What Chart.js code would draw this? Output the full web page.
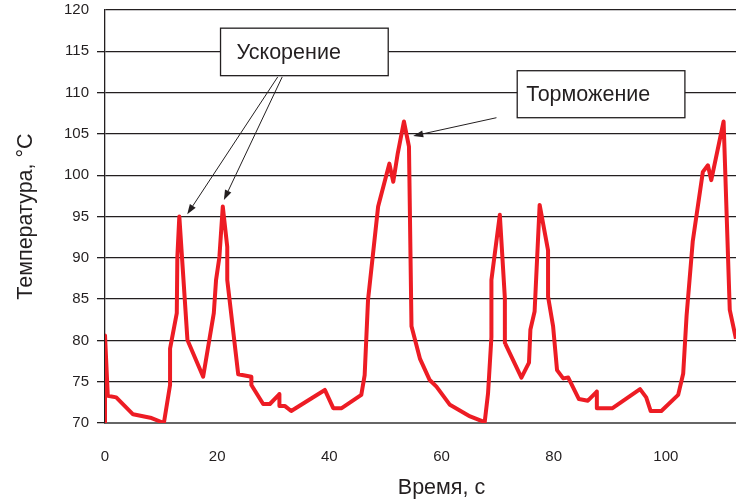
<!DOCTYPE html>
<html>
<head>
<meta charset="utf-8">
<script src="https://cdn.jsdelivr.net/npm/chart.js@4"></script>
<style>
  html, body { margin: 0; padding: 0; background: #fff; overflow: hidden; width: 736px; height: 499px; }
  #wrap { width: 780px; height: 499px; }
  canvas { display: block; }
</style>
</head>
<body>
<div id="wrap"><canvas id="c" width="780" height="499"></canvas></div>
<script>
// ---- data ----
const timeSec = [0, 0, 0.5, 2.0, 5.0, 8.3, 10.5, 11.6, 11.6, 12.8, 12.9, 13.25, 14.7, 17.5, 19.4, 19.8, 20.4, 21.0, 21.8, 21.8, 23.75, 26.1, 26.1, 28.2, 29.4, 31.1, 31.1, 32.1, 33.2, 39.2, 40.7, 42.2, 45.7, 46.3, 46.9, 48.7, 50.7, 51.4, 52.2, 53.3, 54.2, 54.65, 56.15, 57.9, 59.1, 61.5, 65.1, 67.7, 68.3, 68.9, 68.9, 70.4, 71.3, 71.3, 74.25, 75.6, 75.85, 76.6, 77.5, 79.0, 79.0, 79.9, 80.6, 81.7, 82.6, 84.5, 86.1, 87.7, 87.7, 90.5, 95.4, 96.5, 97.3, 99.2, 102.2, 103.1, 103.7, 104.8, 106.6, 107.5, 108.1, 110.3, 111.4, 112.5];
const temperatureC = [70, 80.6, 73.3, 73.1, 71.05, 70.6, 70.0, 74.6, 79.0, 83.3, 90.1, 95.0, 80.05, 75.6, 83.3, 87.3, 90.1, 96.2, 91.3, 87.3, 75.9, 75.6, 74.6, 72.3, 72.3, 73.5, 72.05, 72.05, 71.45, 74.0, 71.8, 71.8, 73.4, 75.8, 84.9, 96.2, 101.4, 99.2, 102.65, 106.5, 103.45, 81.7, 77.8, 75.2, 74.4, 72.2, 70.8, 70.1, 73.6, 80.4, 87.3, 95.2, 85.1, 79.7, 75.5, 77.3, 81.3, 83.5, 96.4, 90.9, 85.3, 81.7, 76.4, 75.4, 75.5, 72.9, 72.7, 73.8, 71.8, 71.8, 74.1, 73.1, 71.45, 71.45, 73.4, 76.0, 83.0, 92.0, 100.4, 101.2, 99.4, 106.5, 83.7, 80.2];
const xTickValues = [0, 20, 40, 60, 80, 100, 120];
const yTickValues = [70, 75, 80, 85, 90, 95, 100, 105, 110, 115, 120];
const xAxisTitle = 'Время, с';
const yAxisTitle = 'Температура, °C';
const calloutTexts = ['Ускорение', 'Торможение'];

// ---- callout layout (in data coordinates) ----
const calloutBoxes = [
  { text: calloutTexts[0], x0: 20.6, x1: 50.5, y0: 112.05, y1: 117.8, padX: 16 },
  { text: calloutTexts[1], x0: 73.5, x1: 103.4, y0: 106.96, y1: 112.65, padX: 9 }
];
const calloutArrows = [
  { from: [30.8, 111.9], to: [14.67, 95.27] },
  { from: [31.6, 111.9], to: [21.2, 97.0] },
  { from: [69.8, 106.96], to: [54.95, 104.75] }
];

const points = timeSec.map((t, i) => ({ x: t, y: temperatureC[i] }));
const FONT = "'Liberation Sans', Arial, sans-serif";
const TEXT = '#231f20';

const calloutPlugin = {
  id: 'callouts',
  afterDatasetsDraw(chart) {
    const { ctx, scales: { x, y } } = chart;
    ctx.save();
    ctx.strokeStyle = '#231f20';
    ctx.fillStyle = '#231f20';
    ctx.lineWidth = 1;
    for (const a of calloutArrows) {
      const x1 = x.getPixelForValue(a.from[0]), y1 = y.getPixelForValue(a.from[1]);
      const x2 = x.getPixelForValue(a.to[0]), y2 = y.getPixelForValue(a.to[1]);
      const ang = Math.atan2(y2 - y1, x2 - x1);
      const L = 10, W = 3.5;
      const bx = x2 - L * Math.cos(ang), by = y2 - L * Math.sin(ang);
      ctx.beginPath();
      ctx.moveTo(x1, y1);
      ctx.lineTo(bx, by);
      ctx.stroke();
      ctx.beginPath();
      ctx.moveTo(x2, y2);
      ctx.lineTo(bx + W * Math.sin(ang), by - W * Math.cos(ang));
      ctx.lineTo(bx - W * Math.sin(ang), by + W * Math.cos(ang));
      ctx.closePath();
      ctx.fill();
    }
    for (const b of calloutBoxes) {
      const left = x.getPixelForValue(b.x0), right = x.getPixelForValue(b.x1);
      const top = y.getPixelForValue(b.y1), bottom = y.getPixelForValue(b.y0);
      ctx.fillStyle = '#ffffff';
      ctx.fillRect(left, top, right - left, bottom - top);
      ctx.strokeStyle = '#231f20';
      ctx.lineWidth = 1.3;
      ctx.strokeRect(left, top, right - left, bottom - top);
      ctx.fillStyle = TEXT;
      ctx.font = '21.5px ' + FONT;
      ctx.textAlign = 'left';
      ctx.textBaseline = 'middle';
      ctx.fillText(b.text, left + b.padX, (top + bottom) / 2 + 1);
    }
    ctx.restore();
  }
};

new Chart(document.getElementById('c'), {
  type: 'line',
  data: {
    datasets: [{
      data: points,
      borderColor: '#ed1c24',
      borderWidth: 4,
      borderJoinStyle: 'round',
      pointRadius: 0,
      tension: 0,
      fill: false
    }]
  },
  options: {
    responsive: false,
    animation: false,
    devicePixelRatio: 1,
    layout: { padding: { top: 10, right: 2, left: 0, bottom: 0 } },
    plugins: { legend: { display: false }, tooltip: { enabled: false } },
    scales: {
      x: {
        type: 'linear',
        min: 0, max: 120,
        afterBuildTicks: (s) => { s.ticks = xTickValues.map(v => ({ value: v })); },
        afterFit: (s) => { s.height = 76; s.paddingLeft = 0; s.paddingRight = 0; },
        grid: { display: false, drawTicks: false },
        border: { display: true, color: '#666', width: 2 },
        ticks: { padding: 25, color: TEXT, font: { family: FONT, size: 15 } },
        title: { display: true, text: xAxisTitle, color: TEXT, padding: 0, font: { family: FONT, size: 21.5, lineHeight: 1 } }
      },
      y: {
        min: 70, max: 120,
        afterBuildTicks: (s) => { s.ticks = yTickValues.map(v => ({ value: v })); },
        afterFit: (s) => { s.width = 105; s.paddingTop = 0; s.paddingBottom = 0; },
        grid: {
          color: '#231f20',
          lineWidth: 1.3,
          drawTicks: true,
          tickLength: 8,
          tickColor: (c) => (c.tick && c.tick.value === 120) ? 'rgba(0,0,0,0)' : '#231f20'
        },
        border: { display: true, color: '#231f20', width: 1.3 },
        ticks: { padding: 8, color: TEXT, font: { family: FONT, size: 15 } },
        title: { display: true, text: yAxisTitle, color: TEXT, padding: { top: 13, bottom: 0 }, font: { family: FONT, size: 21.5 } }
      }
    }
  },
  plugins: [calloutPlugin]
});
</script>
</body>
</html>
